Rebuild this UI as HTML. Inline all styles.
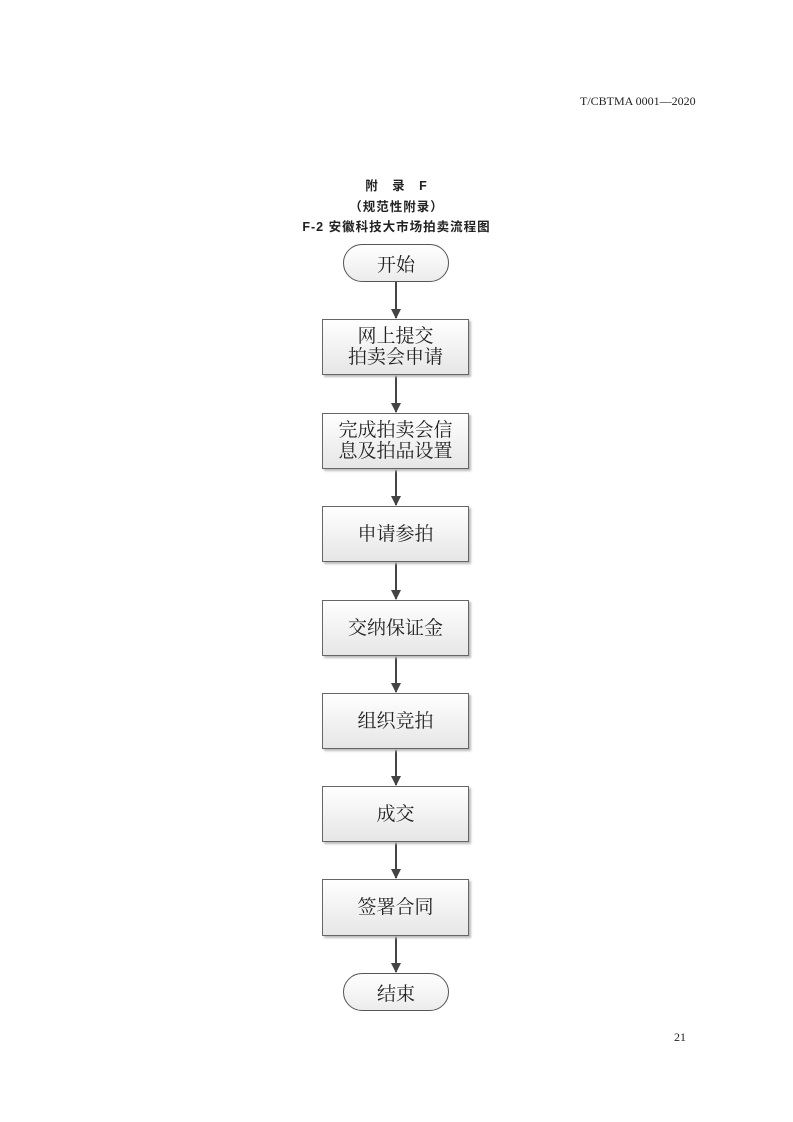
<!DOCTYPE html>
<html><head><meta charset="utf-8"><style>
body{margin:0;width:793px;height:1122px;background:#fff;position:relative;overflow:hidden}
.t{position:absolute;white-space:nowrap}
.hd{font-family:"Liberation Serif","Noto Serif CJK SC",serif;font-size:12px;color:#222}
.ti{font-family:"Liberation Sans","Noto Sans CJK SC",sans-serif;font-weight:bold;font-size:12.5px;letter-spacing:1px;color:#222;left:0;width:793px;text-align:center}
.b{position:absolute;left:322px;width:145px;border:1px solid #666;background:linear-gradient(#fff,#e6e6e6);box-shadow:2px 2px 2px #bbb;display:flex;align-items:center;justify-content:center;text-align:center;font-family:"Liberation Serif","Noto Serif CJK SC",serif;font-size:19px;line-height:21px;color:#222}
.p{position:absolute;left:343px;width:104px;border:1px solid #555;border-radius:20px;background:linear-gradient(#fff,#ececec);display:flex;align-items:center;justify-content:center;font-family:"Liberation Serif","Noto Serif CJK SC",serif;font-size:19px;color:#222}
</style></head><body>
<div class="t hd" style="left:580px;top:94px">T/CBTMA 0001—2020</div>
<div class="t hd" style="left:674px;top:1030px">21</div>
<div class="t ti" style="top:175px">附&nbsp;&nbsp;&nbsp;录&nbsp;&nbsp;&nbsp;F</div>
<div class="t ti" style="top:196px">（规范性附录）</div>
<div class="t ti" style="top:216px">F-2 安徽科技大市场拍卖流程图</div>
<svg style="position:absolute;left:0;top:0" width="793" height="1122">
<defs><marker id="a" markerWidth="10" markerHeight="10" refX="9" refY="5" orient="auto" markerUnits="userSpaceOnUse"><path d="M0,0 L10,5 L0,10 z" fill="#444"/></marker></defs>
<g stroke="#444" stroke-width="2" marker-end="url(#a)">
<line x1="396" y1="282" x2="396" y2="318"/>
<line x1="396" y1="375" x2="396" y2="412"/>
<line x1="396" y1="469" x2="396" y2="505"/>
<line x1="396" y1="562" x2="396" y2="599"/>
<line x1="396" y1="656" x2="396" y2="692"/>
<line x1="396" y1="749" x2="396" y2="785"/>
<line x1="396" y1="842" x2="396" y2="878"/>
<line x1="396" y1="936" x2="396" y2="972"/>
</g></svg>
<div class="p" style="top:244px;height:36px">开始</div>
<div class="b" style="top:319px;height:54px">网上提交<br>拍卖会申请</div>
<div class="b" style="top:413px;height:54px">完成拍卖会信<br>息及拍品设置</div>
<div class="b" style="top:506px;height:54px">申请参拍</div>
<div class="b" style="top:600px;height:54px">交纳保证金</div>
<div class="b" style="top:693px;height:54px">组织竞拍</div>
<div class="b" style="top:786px;height:54px">成交</div>
<div class="b" style="top:879px;height:55px">签署合同</div>
<div class="p" style="top:973px;height:36px">结束</div>
</body></html>
